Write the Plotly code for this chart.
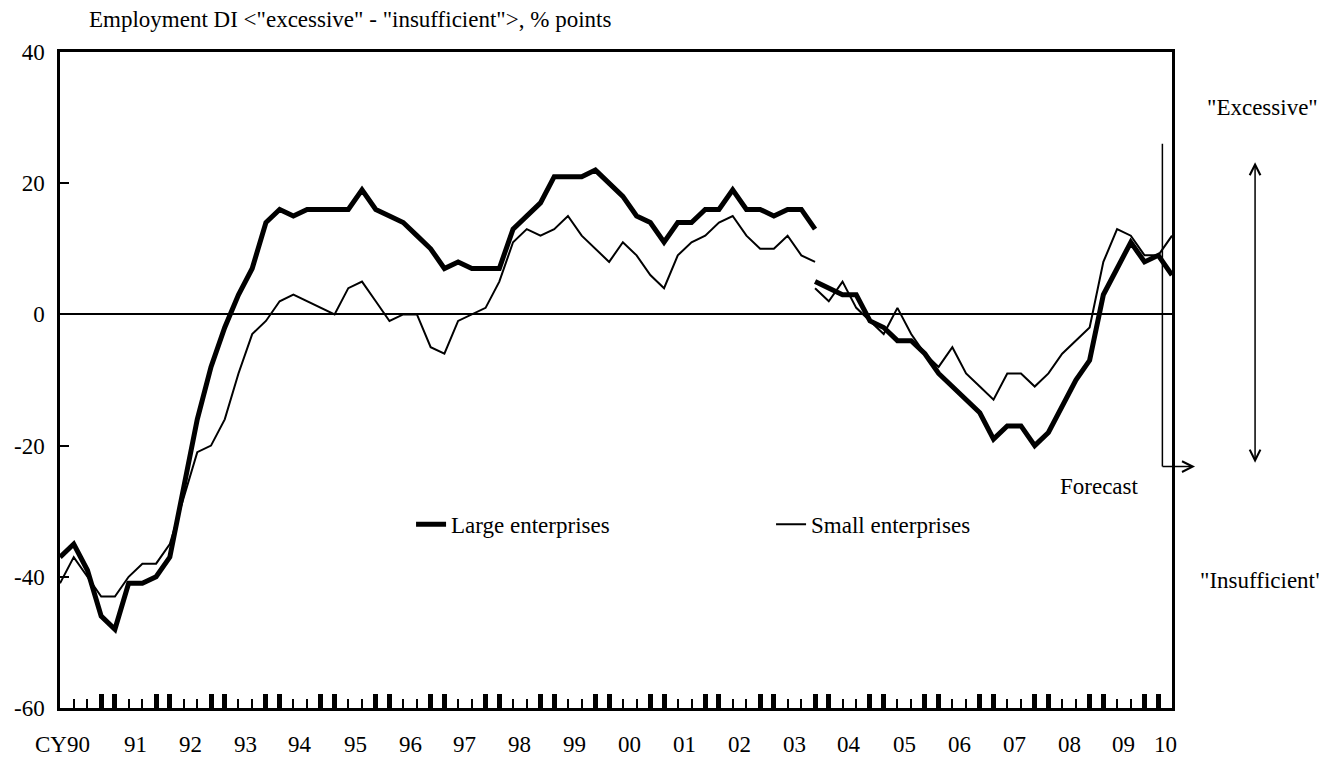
import plotly.graph_objects as go

# ---------------- data (quarterly, CY1990Q1 .. CY2010Q2) ----------------
start_year = 1990
# old survey basis: 1990Q1 .. 2003Q4
large_old = [-37, -35, -39, -46, -48, -41, -41, -40, -37, -26, -16, -8, -2, 3, 7, 14,
             16, 15, 16, 16, 16, 16, 19, 16, 15, 14, 12, 10, 7, 8, 7, 7,
             7, 13, 15, 17, 21, 21, 21, 22, 20, 18, 15, 14, 11, 14, 14, 16,
             16, 19, 16, 16, 15, 16, 16, 13]
small_old = [-41, -37, -40, -43, -43, -40, -38, -38, -35, -28, -21, -20, -16, -9, -3, -1,
             2, 3, 2, 1, 0, 4, 5, 2, -1, 0, 0, -5, -6, -1, 0, 1,
             5, 11, 13, 12, 13, 15, 12, 10, 8, 11, 9, 6, 4, 9, 11, 12,
             14, 15, 12, 10, 10, 12, 9, 8]
# new survey basis: 2003Q4 .. 2010Q2 (last point = forecast)
large_new = [5, 4, 3, 3, -1, -2, -4, -4, -6, -9, -11, -13, -15, -19, -17, -17,
             -20, -18, -14, -10, -7, 3, 7, 11, 8, 9, 6]
small_new = [4, 2, 5, 1, -1, -3, 1, -3, -6, -8, -5, -9, -11, -13, -9, -9,
             -11, -9, -6, -4, -2, 8, 13, 12, 9, 9, 12]
new_start_index = 55  # 2003Q4
year_labels = ["CY90", "91", "92", "93", "94", "95", "96", "97", "98", "99", "00",
               "01", "02", "03", "04", "05", "06", "07", "08", "09", "10"]
y_tick_values = [-60, -40, -20, 0, 20, 40]
y_tick_labels = ["-60", "-40", "-20", "0", "20", "40"]

n_quarters = new_start_index + len(large_new)
qx = [start_year + i / 4 for i in range(n_quarters)]
x_old = qx[:len(large_old)]
x_new = qx[new_start_index:]

FONT = "Liberation Serif, Times New Roman, serif"
FS = 23

fig = go.Figure()
fig.add_trace(go.Scatter(x=x_old, y=large_old, mode="lines", name="Large enterprises",
                         line=dict(color="black", width=5), legendgroup="L"))
fig.add_trace(go.Scatter(x=x_new, y=large_new, mode="lines", name="Large enterprises",
                         line=dict(color="black", width=5), legendgroup="L", showlegend=False))
fig.add_trace(go.Scatter(x=x_old, y=small_old, mode="lines", name="Small enterprises",
                         line=dict(color="black", width=2), legendgroup="S"))
fig.add_trace(go.Scatter(x=x_new, y=small_new, mode="lines", name="Small enterprises",
                         line=dict(color="black", width=2), legendgroup="S", showlegend=False))
# invisible carrier traces for the tick-only axes
for ax in ("x2", "x3"):
    fig.add_trace(go.Scatter(x=[qx[0], qx[-1]], y=[0, 0], xaxis=ax, mode="lines",
                             line=dict(width=0), showlegend=False, hoverinfo="skip"))

thin_ticks = [v for i, v in enumerate(qx) if i % 4 in (1, 2)]
thick_ticks = [v for i, v in enumerate(qx) if i % 4 in (0, 3)]
label_pos = []
for i in range(len(year_labels)):
    yq = [v for v in qx if start_year + i <= v < start_year + i + 1]
    label_pos.append(sum(yq) / len(yq))

xr = [qx[0], qx[-1]]
fig.update_layout(
    width=1319, height=750,
    margin=dict(l=52, r=155, t=44, b=50, autoexpand=False),
    paper_bgcolor="white", plot_bgcolor="white",
    font=dict(family=FONT, size=FS, color="black"),
    showlegend=True,
    legend=dict(orientation="h", x=0.3157, y=0.28, xanchor="left", yanchor="middle",
                bgcolor="rgba(0,0,0,0)", font=dict(size=FS), entrywidth=315,
                entrywidthmode="pixels", traceorder="normal"),
    xaxis=dict(range=xr, showgrid=False, zeroline=False, automargin=False,
               showline=True, linecolor="black", linewidth=2.5, mirror=True,
               tickmode="array", tickvals=thin_ticks, ticks="inside",
               ticklen=9, tickwidth=2, tickcolor="black", showticklabels=False),
    xaxis2=dict(range=xr, overlaying="x", anchor="y", side="bottom", matches="x",
                showgrid=False, zeroline=False, showline=False, automargin=False,
                tickmode="array", tickvals=thick_ticks, ticks="inside",
                ticklen=14, tickwidth=4.5, tickcolor="black", showticklabels=False),
    xaxis3=dict(range=xr, overlaying="x", anchor="y", side="bottom", matches="x",
                showgrid=False, zeroline=False, showline=False, automargin=False,
                tickmode="array", tickvals=thin_ticks, ticks="inside",
                ticklen=9, tickwidth=2, tickcolor="black", showticklabels=False),
    yaxis=dict(range=[-60, 40], tickmode="array", tickvals=y_tick_values,
               ticktext=y_tick_labels,
               ticks="inside", ticklen=9, tickwidth=2, tickcolor="black", automargin=False,
               showgrid=False, showline=True, linecolor="black", linewidth=2.5, mirror=True,
               zeroline=True, zerolinecolor="black", zerolinewidth=1.5,
               tickfont=dict(size=FS), ticklabelstandoff=8),
)

# year labels (first one carries the "CY" prefix; its digits stay centred on the year)
for pos, lab in zip(label_pos, year_labels):
    if lab.startswith("CY"):
        fig.add_annotation(x=pos, xref="x", y=-0.0564, yref="paper", text=lab,
                           showarrow=False, xanchor="right", yanchor="middle", xshift=11.5,
                           font=dict(size=FS))
    else:
        fig.add_annotation(x=pos, xref="x", y=-0.0564, yref="paper", text=lab,
                           showarrow=False, xanchor="center", yanchor="middle",
                           font=dict(size=FS))
# title
fig.add_annotation(x=0.0245, xref="paper", y=1.0488, yref="paper",
                   text='Employment DI <"excessive" - "insufficient">, % points',
                   showarrow=False, xanchor="left", yanchor="middle", font=dict(size=FS))
# forecast marker
fx = qx[-2] + 0.075
fig.add_shape(type="line", xref="x", yref="y", x0=fx, x1=fx, y0=-23.2, y1=26,
              line=dict(color="black", width=1.5))
fig.add_annotation(x=1.0207, xref="paper", y=-23.2, yref="y", ax=-34, ay=0,
                   text="", showarrow=True, arrowhead=5, arrowsize=1.4, arrowwidth=1.5,
                   arrowcolor="black", standoff=0)
fig.add_annotation(x=0.935, xref="paper", y=0.337, yref="paper", text="Forecast",
                   showarrow=False, xanchor="center", yanchor="middle", font=dict(size=FS))
# excessive / insufficient double arrow
fig.add_annotation(x=1.0747, xref="paper", y=23.2, yref="y", ax=0, ay=302,
                   text="", showarrow=True, arrowside="end+start",
                   arrowhead=5, startarrowhead=5, arrowsize=1.4, startarrowsize=1.4,
                   arrowwidth=1.5, arrowcolor="black", standoff=0, startstandoff=0)
fig.add_annotation(x=1.0818, xref="paper", y=0.916, yref="paper", text='"Excessive"',
                   showarrow=False, xanchor="center", yanchor="middle", font=dict(size=FS))
fig.add_annotation(x=1.081, xref="paper", y=0.195, yref="paper", text='"Insufficient"',
                   showarrow=False, xanchor="center", yanchor="middle", font=dict(size=FS))

fig.write_html("out.html")
